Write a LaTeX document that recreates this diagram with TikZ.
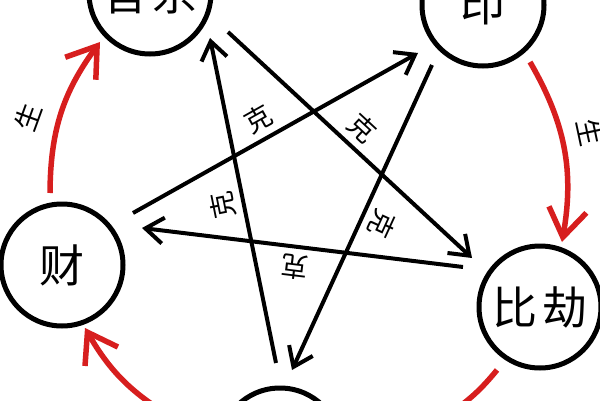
\documentclass[tikz,border=0pt]{standalone}
\usepackage{fontspec}
\newfontfamily\cjk{Noto Sans CJK SC}
\usetikzlibrary{arrows.meta}
\definecolor{redarc}{RGB}{215,30,30}
\begin{document}
\begin{tikzpicture}[x=1pt,y=1pt,
  ring/.style={circle, draw=black, line width=5pt, minimum size=122pt, inner sep=0pt, font=\cjk\fontsize{45}{45}\selectfont},
  ke/.style={-{Straight Barb[length=18pt,width=26pt]}, line width=4pt, black},
  sheng/.style={-{Straight Barb[length=28pt,width=38pt]}, line width=5.5pt, redarc},
  shengline/.style={line width=5.5pt, redarc},
  kelabel/.style={font=\cjk\fontsize{27}{27}\selectfont, inner sep=0pt, sloped, allow upside down, above=6pt},
  slabel/.style={font=\cjk\fontsize{27}{27}\selectfont, inner sep=0pt}]
\useasboundingbox (0,0) rectangle (600,400);
\fill[white] (0,0) rectangle (600,400);
% circles
\node[ring] (guan) at (150,407) {官\hspace{6pt}杀};
\node[ring] (yin)  at (483,395) {印};
\node[ring] (bi)   at (540,93)  {比\hspace{6pt}劫};
\node[ring] (cai)  at (62,135)  {财};
\node[ring] (shi)  at (280,-49) {};
% black star endpoints
\coordinate (a1) at (276,37);  \coordinate (a2) at (210,362);
\coordinate (b1) at (228,368); \coordinate (b2) at (472,142);
\coordinate (c1) at (133,187); \coordinate (c2) at (418,347);
\coordinate (d1) at (432,335); \coordinate (d2) at (292,30);
\coordinate (e1) at (463,133); \coordinate (e2) at (142,172);
\draw[ke] (a1) -- node[kelabel,pos=0.498]{克} (a2);
\draw[ke] (b1) -- node[kelabel,pos=0.494]{克} (b2);
\draw[ke] (c1) -- node[kelabel,pos=0.475]{克} (c2);
\draw[ke] (d1) -- node[kelabel,pos=0.492]{克} (d2);
\draw[ke] (e1) -- node[kelabel,pos=0.515]{克} (e2);
% red arcs
\coordinate (r1s) at (50,207);  \coordinate (r1e) at (100,358);
\coordinate (r2s) at (530,338); \coordinate (r2e) at (562,158);
\coordinate (r3s) at (497,30);  \coordinate (r3e) at (449,-14);
\coordinate (r4s) at (177,-20); \coordinate (r4e) at (85,72);
\draw[sheng] (r1s) to[bend left=18] (r1e);
\draw[sheng] (r2s) to[bend left=20] (r2e);
\draw[shengline] (r3s) to[bend left=8] (r3e);
\draw[sheng] (r4s) to[bend left=15] (r4e);
\node[slabel, rotate=70] (s1) at (28,283) {生};
\node[slabel, rotate=-78] (s2) at (590,268) {生};
\end{tikzpicture}
\end{document}
